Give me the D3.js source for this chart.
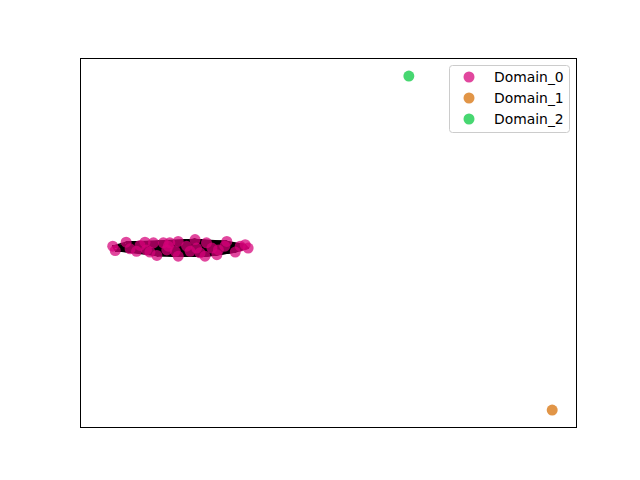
<!DOCTYPE html>
<html><head><meta charset="utf-8">
<script src="https://cdn.jsdelivr.net/npm/d3@7"></script>
<style>body{margin:0;background:#fff}svg{display:block}</style>
</head><body>
<script>
const domains = ["Domain_0", "Domain_1", "Domain_2"];
const colors = ["#d50078", "#d66c00", "#00c83a"];
const domain0X = [6.6,7.1,9.3,10.1,12.1,13.1,13.4,14.8,15.5,14.1,17.8,18.1,19.8,19.2,19.8,23.2,23.5,24.2,25.5,25.2,27.9,27.6,29.6,29.2,31.3,33.3,33.9,17.5,16.8,11.4,21.5,22.2,26.6,32.3];
const domain0Y = [49.0,47.8,50.1,48.3,49.2,50.1,48.0,49.9,46.5,47.4,49.0,49.9,50.3,47.6,46.3,50.8,48.5,47.2,49.9,46.3,48.0,46.7,50.3,49.0,47.4,49.4,48.5,48.0,49.9,47.6,49.0,47.6,48.5,49.0];
const domain1X = [95.2], domain1Y = [4.6];
const domain2X = [66.3], domain2Y = [95.1];

const W = 640, H = 480;
const L = 80, R = 576, T = 58, B = 427;
const x = d3.scaleLinear().domain([0, 100]).range([L, R]);
const y = d3.scaleLinear().domain([0, 100]).range([B, T]);

const svg = d3.select("body").append("svg").attr("width", W).attr("height", H);

const series = [
  {name: domains[0], xs: domain0X, ys: domain0Y, color: colors[0]},
  {name: domains[1], xs: domain1X, ys: domain1Y, color: colors[1]},
  {name: domains[2], xs: domain2X, ys: domain2Y, color: colors[2]}
];

// edges among domain 0 points
const pts0 = domain0X.map((v, i) => [v, domain0Y[i]]);
const edges = [];
for (let i = 0; i < pts0.length; i++) for (let j = i + 1; j < pts0.length; j++) edges.push([pts0[i], pts0[j]]);
svg.append("g").selectAll("line").data(edges).join("line")
  .attr("x1", d => x(d[0][0])).attr("y1", d => y(d[0][1]))
  .attr("x2", d => x(d[1][0])).attr("y2", d => y(d[1][1]))
  .attr("stroke", "#000").attr("stroke-width", 1.5);

series.forEach(s => {
  svg.append("g").selectAll("circle").data(s.xs.map((v, i) => [v, s.ys[i]])).join("circle")
    .attr("cx", d => x(d[0])).attr("cy", d => y(d[1])).attr("r", 5.5)
    .attr("fill", s.color).attr("fill-opacity", 0.72);
});

svg.append("rect").attr("x", L + 0.5).attr("y", T + 0.5).attr("width", R - L).attr("height", B - T)
  .attr("fill", "none").attr("stroke", "#000").attr("stroke-width", 1);

// legend
const lg = svg.append("g");
lg.append("rect").attr("x", 449.5).attr("y", 65.5).attr("width", 120).attr("height", 67).attr("rx", 3)
  .attr("fill", "#fff").attr("fill-opacity", 0.8).attr("stroke", "#ccc");
series.forEach((s, i) => {
  const cy = 77 + i * 21;
  lg.append("circle").attr("cx", 469).attr("cy", cy).attr("r", 5.5).attr("fill", s.color).attr("fill-opacity", 0.72);
  lg.append("text").attr("x", 494).attr("y", cy + 5).text(s.name)
    .attr("font-family", "DejaVu Sans").attr("font-size", 13.9).attr("fill", "#000");
});
</script>
</body></html>
